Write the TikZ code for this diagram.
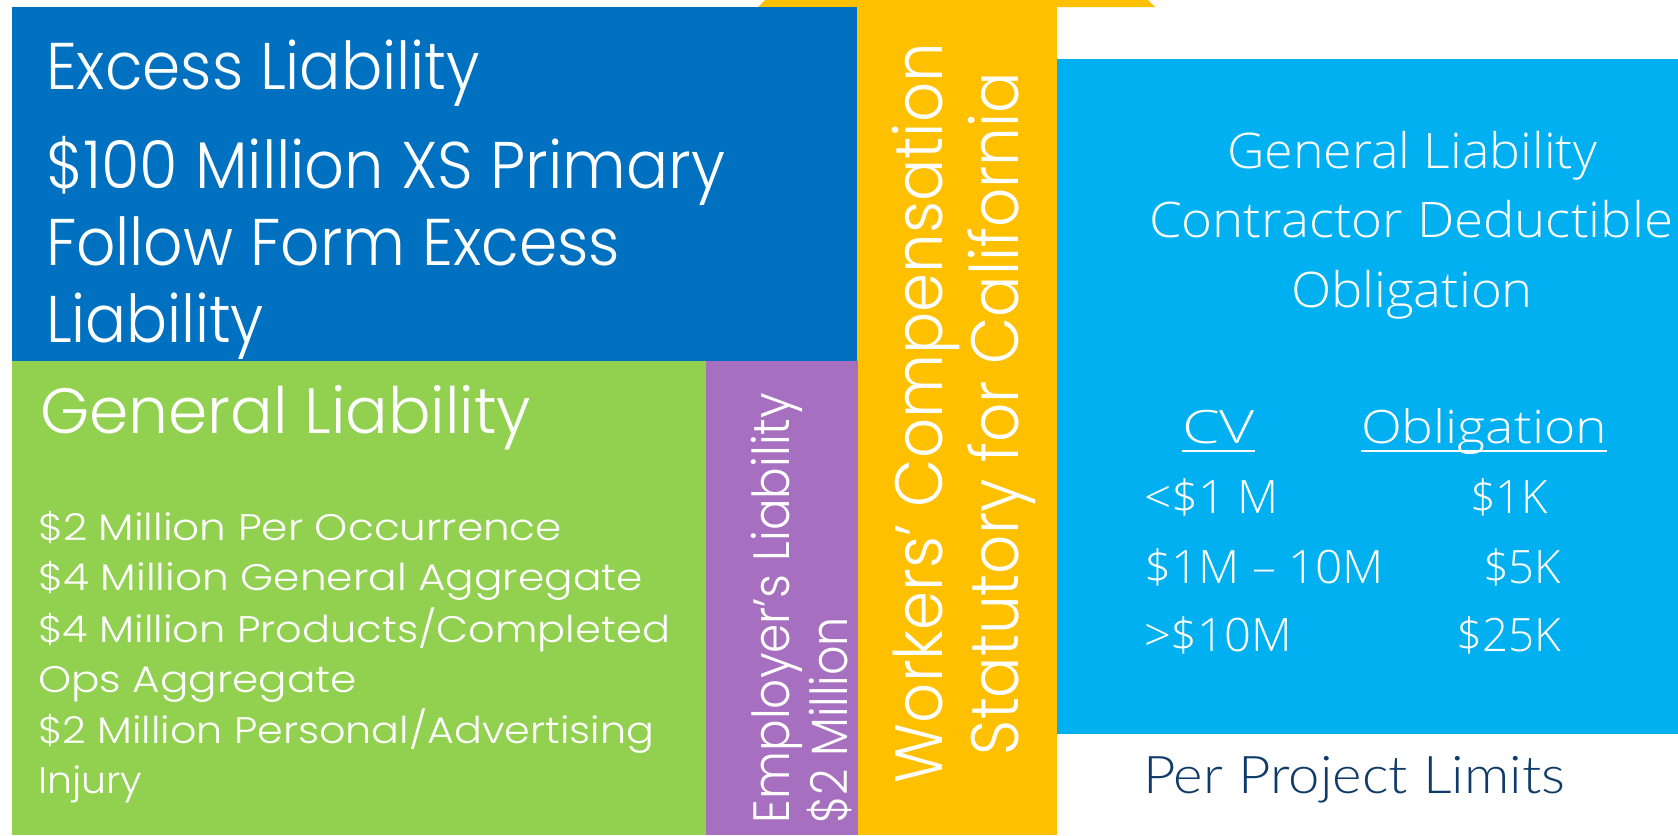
\documentclass[tikz,border=0pt]{standalone}
\usepackage{fontspec}
\usepackage{graphicx}
\newfontfamily\gfont{Poppins Light}
\newfontfamily\afont{Open Sans Light}
\newfontfamily\cfont{Lato Light}
\definecolor{cBlue}{HTML}{0070C0}
\definecolor{cGreen}{HTML}{92D050}
\definecolor{cPurple}{HTML}{A66FC0}
\definecolor{cYellow}{HTML}{FFC000}
\definecolor{cSky}{HTML}{00B0F0}
\definecolor{cNavy}{HTML}{0F3B6B}
\newcommand\fitw[2]{\resizebox{#1pt}{\height}{#2}}
\begin{document}
\begin{tikzpicture}[x=1pt,y=-1pt,
  txt/.style={anchor=base west, inner sep=0pt, outer sep=0pt, text=white},
  gbig/.style={txt, font=\gfont\fontsize{66}{66}\selectfont},
  gmid/.style={txt, font=\gfont\fontsize{64}{64}\selectfont},
  gsmall/.style={txt, font=\gfont\fontsize{37}{37}\selectfont},
  gpur/.style={txt, rotate=90, font=\gfont\fontsize{51}{51}\selectfont},
  gyel/.style={txt, rotate=90, font=\gfont\fontsize{67}{67}\selectfont},
  ahead/.style={txt, font=\afont\fontsize{49}{49}\selectfont},
  atab/.style={txt, font=\afont\fontsize{46}{46}\selectfont},
  plim/.style={txt, text=cNavy, font=\cfont\fontsize{52}{52}\selectfont},
  ul/.style={draw=white, line width=2.5pt}]
\useasboundingbox (0,0) rectangle (1678,835);
\fill[white] (0,0) rectangle (1678,835);
% blocks
\fill[cYellow] (758,7) -- (765,0) -- (1148,0) -- (1155,7) -- cycle;
\fill[cYellow] (857,7) rectangle (1057,835);
\fill[cBlue] (12,7) rectangle (857,361);
\fill[cGreen] (12,361) rectangle (706,835);
\fill[cPurple] (706,361) rectangle (858,835);
\fill[cSky] (1057,59) rectangle (1678,734);
% excess liability
\node[gbig] (ex1) at (46,89) {\fitw{434}{Excess Liability}};
\node[gbig] (ex2) at (46,188) {\fitw{679}{\$100 Million XS Primary}};
\node[gbig] (ex3) at (46,265) {\fitw{574}{Follow Form Excess}};
\node[gbig] (ex4) at (46,342) {\fitw{218}{Liability}};
% general liability
\node[gmid] (gl0) at (40,433) {\fitw{491}{General Liability}};
\node[gsmall] (gl1) at (38,540) {\fitw{524}{\$2 Million Per Occurrence}};
\node[gsmall] (gl2) at (38,590) {\fitw{605}{\$4 Million General Aggregate}};
\node[gsmall] (gl3) at (38,642) {\fitw{632}{\$4 Million Products/Completed}};
\node[gsmall] (gl4) at (38,692) {\fitw{319}{Ops Aggregate}};
\node[gsmall] (gl5) at (38,743) {\fitw{616}{\$2 Million Personal/Advertising}};
\node[gsmall] (gl6) at (38,793) {\fitw{104}{Injury}};
% employer's liability
\node[gpur] (el1) at (789,823) {\fitw{430}{Employer’s Liability}};
\node[gpur] (el2) at (847,823) {\fitw{206}{\$2 Million}};
% workers' compensation
\node[gyel] (wc1) at (942,783) {\fitw{740}{Workers’ Compensation}};
\node[gyel] (wc2) at (1018,755) {\fitw{683}{Statutory for California}};
% right panel
\node[ahead] (rh1) at (1227,168) {\fitw{370}{General Liability}};
\node[ahead] (rh2) at (1149,237) {\fitw{524}{Contractor Deductible}};
\node[ahead] (rh3) at (1291,307) {\fitw{242}{Obligation}};
\node[atab] (cv) at (1182,443) {\fitw{73}{CV}};
\node[atab] (ob) at (1361,443) {\fitw{246}{Obligation}};
\draw[ul] ([yshift=-8pt]cv.base west) -- ([yshift=-8pt]cv.base east);
\draw[ul] ([yshift=-8pt]ob.base west) -- ([yshift=-8pt]ob.base east);
\node[atab] (r1a) at (1144,513) {\fitw{135}{<\$1 M}};
\node[atab] (r1b) at (1470,513) {\fitw{78}{\$1K}};
\node[atab] (r2a) at (1144,583) {\fitw{240}{\$1M – 10M}};
\node[atab] (r2b) at (1483,583) {\fitw{78}{\$5K}};
\node[atab] (r3a) at (1144,651) {\fitw{148}{>\$10M}};
\node[atab] (r3b) at (1456,651) {\fitw{105}{\$25K}};
\node[plim] (ppl) at (1143,793) {\fitw{422}{Per Project Limits}};
\end{tikzpicture}
\end{document}
